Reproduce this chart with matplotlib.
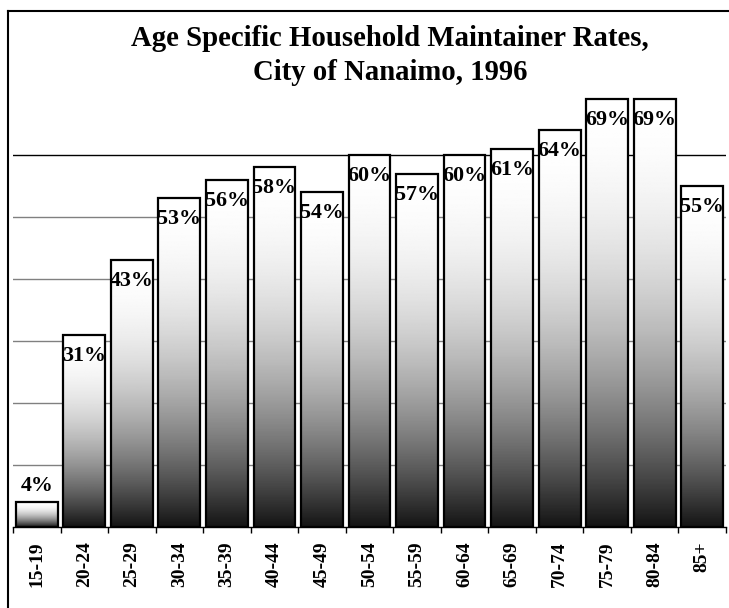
import numpy as np
import matplotlib
matplotlib.use("Agg")
import matplotlib.pyplot as plt
from matplotlib.lines import Line2D

# Household maintainer rates by age group (percent)
age_groups = ["15-19", "20-24", "25-29", "30-34", "35-39", "40-44", "45-49",
              "50-54", "55-59", "60-64", "65-69", "70-74", "75-79", "80-84", "85+"]
rates = [4, 31, 43, 53, 56, 58, 54, 60, 57, 60, 61, 64, 69, 69, 55]

plt.rcParams["font.family"] = ["Liberation Serif", "DejaVu Serif"]
plt.rcParams["font.weight"] = "bold"

fig = plt.figure(figsize=(7.29, 6.08), dpi=100)
ax = fig.add_axes([13 / 729, 1 - 527 / 608, 713 / 729, 434 / 608])

# vertical shading: white at the top of each bar, near black at the base
f = np.linspace(0, 1, 256)
shade = (1 - 0.92 * f ** 2).reshape(-1, 1)

width = 0.88
x = np.arange(len(age_groups))
for xi, v in zip(x, rates):
    ax.imshow(shade, extent=[xi - width / 2, xi + width / 2, 0, v],
              cmap="gray", vmin=0, vmax=1, aspect="auto", zorder=2,
              interpolation="bilinear")
ax.bar(x, rates, width=width, fill=False, edgecolor="black", linewidth=1.6, zorder=3)

for xi, v in zip(x, rates):
    if v < 10:
        ax.text(xi, v + 2.6, f"{v}%", ha="center", va="center", fontsize=15.8,
                fontweight="bold", zorder=4)
    else:
        ax.text(xi, v - 3.4, f"{v}%", ha="center", va="center", fontsize=15.8,
                fontweight="bold", zorder=4)

# gridlines sit behind the bars
for g in [10, 20, 30, 40, 50]:
    ax.axhline(g, color="#808080", lw=1, zorder=1)
ax.axhline(60, color="black", lw=1, zorder=1)

ax.set_xlim(-0.5, len(age_groups) - 0.5)
ax.set_ylim(0, 70)

ax.set_xticks(x)
ax.set_xticklabels(age_groups, rotation=90, fontsize=14, fontweight="bold")
ax.set_xticks(np.arange(len(age_groups) + 1) - 0.5, minor=True)
ax.tick_params(axis="x", which="major", length=0, pad=10)
ax.tick_params(axis="x", which="minor", length=4, width=1, direction="out")
ax.set_yticks([])

for s in ["top", "right", "left"]:
    ax.spines[s].set_visible(False)
ax.spines["bottom"].set_linewidth(1)

fig.text(390 / 729, 1 - 46 / 608, "Age Specific Household Maintainer Rates,",
         ha="center", va="baseline", fontsize=20.7, fontweight="bold")
fig.text(390 / 729, 1 - 80 / 608, "City of Nanaimo, 1996",
         ha="center", va="baseline", fontsize=20.7, fontweight="bold")

# outer border (left and top edges)
fig.add_artist(Line2D([8 / 729, 8 / 729], [0, 1 - 11 / 608],
                      transform=fig.transFigure, color="black", lw=1.5))
fig.add_artist(Line2D([8 / 729, 1], [1 - 11 / 608, 1 - 11 / 608],
                      transform=fig.transFigure, color="black", lw=1.5))

fig.savefig("out.png", dpi=100)
